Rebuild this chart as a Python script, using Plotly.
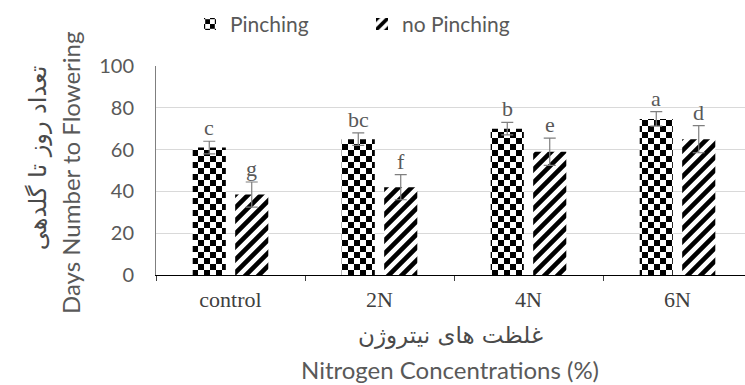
import plotly.graph_objects as go

# Flowering time by nitrogen level, with and without pinching
categories = ["control", "2N", "4N", "6N"]
pinching = [61, 65, 70, 74.7]
pinching_err = [3, 3, 3, 3.5]
pinching_letters = ["c", "bc", "b", "a"]
no_pinching = [38.5, 42, 59, 65]
no_pinching_err = [6, 6, 6.5, 6.5]
no_pinching_letters = ["g", "f", "e", "d"]
y_ticks = [0, 20, 40, 60, 80, 100]

GREY = "#595959"
BAR_GAP = 0.43

fig = go.Figure()
fig.add_trace(go.Bar(
    name="Pinching", x=categories, y=pinching, uid="chk",
    marker=dict(color="white", line=dict(width=0),
                pattern=dict(shape="+", fgcolor="black", bgcolor="white", size=12, solidity=0.5)),
    error_y=dict(type="data", array=pinching_err, color="#7f7f7f", thickness=1.2, width=6),
))
fig.add_trace(go.Bar(
    name="no Pinching", x=categories, y=no_pinching, uid="diag",
    marker=dict(color="white", line=dict(width=0),
                pattern=dict(shape="/", fgcolor="black", bgcolor="white", size=13, solidity=0.45)),
    error_y=dict(type="data", array=no_pinching_err, color="#7f7f7f", thickness=1.2, width=6),
))

# significance letters above each error bar
offset = (1 - BAR_GAP) / 4
for series, errs, letters, sign in [(pinching, pinching_err, pinching_letters, -1),
                                    (no_pinching, no_pinching_err, no_pinching_letters, 1)]:
    for i, (v, e, t) in enumerate(zip(series, errs, letters)):
        fig.add_annotation(x=i + sign * offset, y=v + e, text=t, showarrow=False,
                           yanchor="bottom", yshift=-1,
                           font=dict(family="Liberation Serif", size=22, color=GREY))

# two-line axis titles (Persian above English)
title_specs = [
    dict(x=-0.200, y=0.56, text="تعداد روز تا گلدهی", textangle=-90,
         font=dict(family="DejaVu Sans", size=24, color="#4a4a4a")),
    dict(x=-0.146, y=0.488, text="Days Number to Flowering", textangle=-90,
         font=dict(family="Lato", size=24, color=GREY)),
    dict(x=0.50, y=-0.29, text="غلظت های نیتروژن", textangle=0,
         font=dict(family="DejaVu Sans", size=23, color="#4a4a4a")),
    dict(x=0.499, y=-0.45, text="Nitrogen Concentrations (%)", textangle=0,
         font=dict(family="Lato", size=24, color=GREY)),
]
for spec in title_specs:
    fig.add_annotation(xref="paper", yref="paper", showarrow=False,
                       xanchor="center", yanchor="middle", **spec)

fig.update_layout(
    width=745, height=385,
    margin=dict(l=156, r=0, t=66, b=110),
    paper_bgcolor="white", plot_bgcolor="white",
    barmode="group", bargap=BAR_GAP, bargroupgap=0.22,
    showlegend=True,
    legend=dict(orientation="h", xref="container", yref="container",
                x=190 / 745, xanchor="left", y=0.99, yanchor="top",
                font=dict(family="Lato", size=21, color=GREY),
                itemwidth=30, entrywidth=127, entrywidthmode="pixels", tracegroupgap=0),
    xaxis=dict(
        range=[-0.5, 3.453], showline=True, linecolor="black", linewidth=1.3,
        ticks="outside", ticklen=5, tickcolor="#404040", tickson="boundaries",
        ticklabelstandoff=4,
        tickfont=dict(family="Liberation Serif", size=22, color="#404040"),
    ),
    yaxis=dict(
        range=[0, 100], tickvals=y_ticks, showgrid=True, gridcolor="#d9d9d9", gridwidth=1,
        showline=True, linecolor="#7f7f7f", linewidth=1, zeroline=False,
        ticks="", ticklabelstandoff=17,
        tickfont=dict(family="Lato", size=20, color=GREY),
    ),
)

# Solid black fills: checkerboard for the first series, diagonal hatching for the second
post = """
var gd = document.getElementById('{plot_id}');
var ns = 'http://www.w3.org/2000/svg';
function el(tag, attrs) {
  var e = document.createElementNS(ns, tag);
  for (var k in attrs) e.setAttribute(k, attrs[k]);
  return e;
}
function restyleFills() {
  gd.querySelectorAll('pattern').forEach(function(p) {
    var s, kids;
    if (p.id.indexOf('chk') >= 0) {
      s = 12; var h = s / 2;
      kids = [el('rect', {x: 0, y: 0, width: s, height: s, fill: '#ffffff'}),
              el('rect', {x: 0, y: 0, width: h, height: h, fill: '#000000'}),
              el('rect', {x: h, y: h, width: h, height: h, fill: '#000000'})];
    } else if (p.id.indexOf('diag') >= 0) {
      s = 13;
      kids = [el('rect', {x: 0, y: 0, width: s, height: s, fill: '#ffffff'}),
              el('path', {d: 'M0,' + s + 'L' + s + ',0M' + (-s / 2) + ',' + (s / 2) + 'L' + (s / 2) + ',' + (-s / 2) +
                             'M' + (s / 2) + ',' + (1.5 * s) + 'L' + (1.5 * s) + ',' + (s / 2),
                          stroke: '#000000', 'stroke-width': 4.6, fill: 'none'})];
    } else {
      return;
    }
    p.setAttribute('width', s); p.setAttribute('height', s);
    while (p.firstChild) p.removeChild(p.firstChild);
    kids.forEach(function(k) { p.appendChild(k); });
  });
}
restyleFills();
gd.on('plotly_afterplot', restyleFills);
"""

fig.write_html("out.html", post_script=post)
